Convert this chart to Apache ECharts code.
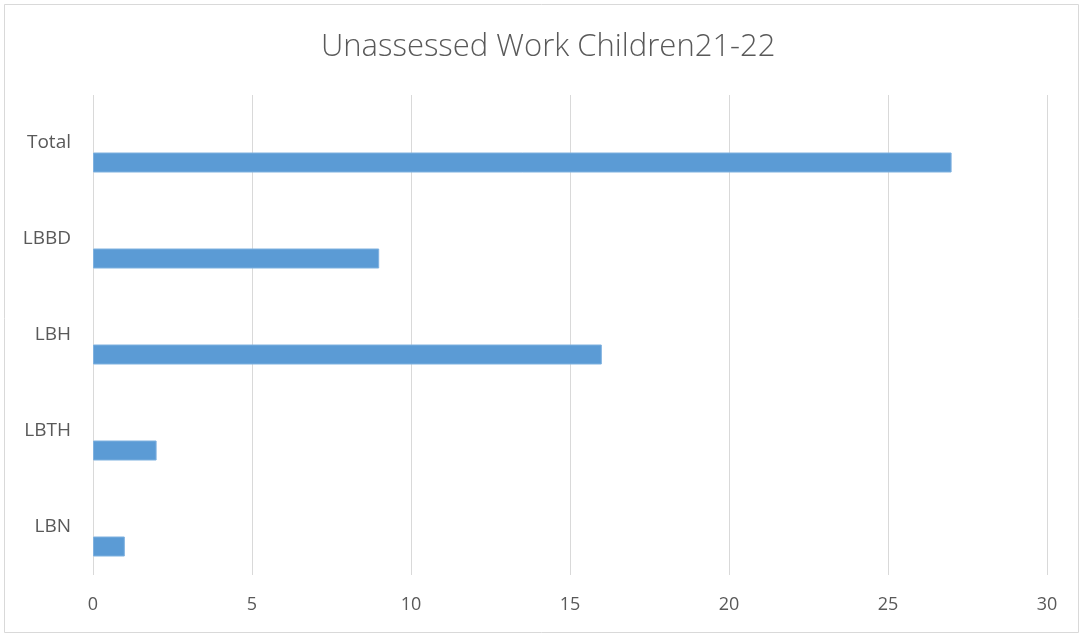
<!DOCTYPE html>
<html>
<head>
<meta charset="utf-8">
<script src="https://cdn.jsdelivr.net/npm/echarts@6/dist/echarts.min.js"></script>
<style>
  html, body { margin: 0; padding: 0; background: #ffffff; }
  #chart { width: 1079px; height: 633px; }
</style>
</head>
<body>
<div id="chart"></div>
<script>
// Unassessed work per borough, 2021-22
const categories = ['Total', 'LBBD', 'LBH', 'LBTH', 'LBN'];
const unassessed = [27, 9, 16, 2, 1];
const placeholder = [null, null, null, null, null];
const xTicks = { min: 0, max: 30, interval: 5 };

const chart = echarts.init(document.getElementById('chart'));
chart.setOption({
  backgroundColor: '#ffffff',
  animation: false,
  title: {
    text: 'Unassessed Work Children21-22',
    left: 316,
    top: 27,
    textStyle: {
      fontFamily: 'Open Sans',
      fontWeight: 300,
      fontSize: 31,
      color: '#595959'
    }
  },
  graphic: [{
    type: 'rect',
    left: 2,
    top: 2,
    shape: { width: 1074, height: 628 },
    style: { fill: 'none', stroke: '#d9d9d9', lineWidth: 1 },
    silent: true
  }],
  grid: { left: 93, right: 32, top: 95, bottom: 58 },
  xAxis: {
    type: 'value',
    min: xTicks.min,
    max: xTicks.max,
    interval: xTicks.interval,
    axisLine: { show: false },
    axisTick: { show: false },
    splitLine: { show: true, lineStyle: { color: '#d9d9d9', width: 1 } },
    axisLabel: {
      margin: 21,
      color: '#595959',
      fontFamily: 'Open Sans',
      fontSize: 18
    }
  },
  yAxis: {
    type: 'category',
    data: categories,
    inverse: true,
    axisLine: { show: false },
    axisTick: { show: false },
    splitLine: { show: false },
    axisLabel: {
      margin: 22,
      color: '#595959',
      fontFamily: 'Open Sans',
      fontSize: 19
    }
  },
  series: [
    {
      name: 'Blank',
      type: 'bar',
      data: placeholder,
      barWidth: 20,
      barGap: '95%',
      itemStyle: { color: 'transparent' },
      silent: true
    },
    {
      name: 'Unassessed',
      type: 'bar',
      data: unassessed,
      barWidth: 20,
      barGap: '95%',
      itemStyle: { color: '#5b9bd5', borderColor: '#7fb1df', borderWidth: 1 }
    }
  ]
});
</script>
</body>
</html>
